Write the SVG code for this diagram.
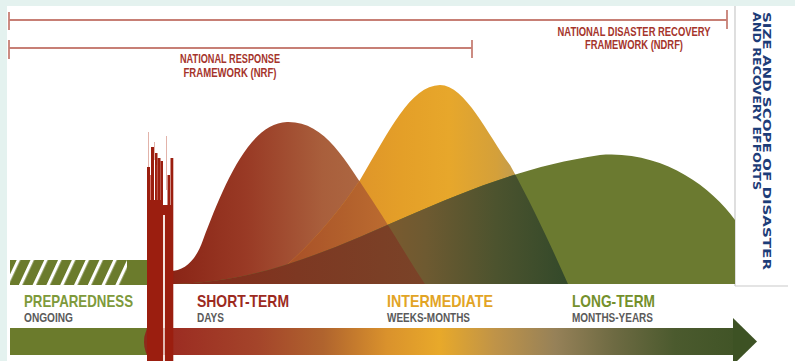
<svg xmlns="http://www.w3.org/2000/svg" width="795" height="361" viewBox="0 0 795 361">
<style>
.lbl{font-family:"Liberation Sans",Arial,sans-serif;font-weight:bold}
.fw{font-size:12.5px;fill:#a5342b;text-anchor:middle}
.ph{font-size:17px}
.sub{font-size:12px;fill:#5a5a5a}
.side{font-family:"DejaVu Sans","Liberation Sans",sans-serif;font-weight:bold;font-size:10.5px;fill:#1d3c78}
.br{stroke:#c77f75;stroke-width:1.8;fill:none}
.sep{stroke:#c9c9c9;stroke-width:1.2;fill:none}
.sp{fill:#9b1e0f}
.hl{stroke:#e2b3aa;stroke-width:1}
</style>
<defs>
<pattern id="hatch" patternUnits="userSpaceOnUse" width="12.5" height="40" patternTransform="rotate(25)">
<rect width="12.5" height="40" fill="#6b7b2c"/>
<rect x="0" width="3.2" height="40" fill="#ffffff"/>
</pattern>
<linearGradient id="gBand" gradientUnits="userSpaceOnUse" x1="10" y1="0" x2="757" y2="0">
<stop offset="0" stop-color="#6b7b2c"/>
<stop offset="0.182" stop-color="#6b7b2c"/>
<stop offset="0.184" stop-color="#8e2a1c"/>
<stop offset="0.22" stop-color="#9c2d22"/>
<stop offset="0.33" stop-color="#a4442a"/>
<stop offset="0.42" stop-color="#b0642e"/>
<stop offset="0.505" stop-color="#da922c"/>
<stop offset="0.575" stop-color="#e8a92a"/>
<stop offset="0.65" stop-color="#bf9348"/>
<stop offset="0.73" stop-color="#968158"/>
<stop offset="0.81" stop-color="#6d6a42"/>
<stop offset="0.89" stop-color="#4b5a2e"/>
<stop offset="1" stop-color="#3d5224"/>
</linearGradient>
<linearGradient id="gBrown" gradientUnits="userSpaceOnUse" x1="170" y1="0" x2="425" y2="0">
<stop offset="0" stop-color="#8a2416"/>
<stop offset="0.3" stop-color="#993a25"/>
<stop offset="0.6" stop-color="#a95f3c"/>
<stop offset="1" stop-color="#b27249"/>
</linearGradient>
<linearGradient id="gGold" gradientUnits="userSpaceOnUse" x1="330" y1="0" x2="568" y2="0">
<stop offset="0" stop-color="#dc8f2a"/>
<stop offset="0.3" stop-color="#e49f28"/>
<stop offset="0.5" stop-color="#e7a72b"/>
<stop offset="0.7" stop-color="#d4a03a"/>
<stop offset="0.88" stop-color="#ab9869"/>
<stop offset="1" stop-color="#a09872"/>
</linearGradient>
<linearGradient id="gBG" gradientUnits="userSpaceOnUse" x1="265" y1="0" x2="425" y2="0">
<stop offset="0" stop-color="#a54a26"/>
<stop offset="0.5" stop-color="#b2602c"/>
<stop offset="1" stop-color="#c37534"/>
</linearGradient>
<linearGradient id="gGreenGold" gradientUnits="userSpaceOnUse" x1="330" y1="0" x2="568" y2="0">
<stop offset="0" stop-color="#8d5a2c"/>
<stop offset="0.4" stop-color="#6e5a31"/>
<stop offset="0.7" stop-color="#4c532e"/>
<stop offset="1" stop-color="#33492a"/>
</linearGradient>
<linearGradient id="gGreenBrown" gradientUnits="userSpaceOnUse" x1="170" y1="0" x2="425" y2="0">
<stop offset="0" stop-color="#862818"/>
<stop offset="0.5" stop-color="#7d3822"/>
<stop offset="1" stop-color="#7a4328"/>
</linearGradient>
<clipPath id="cGold"><path d="M265,284 C300,255 330,225 360,180 C390,130 410,86 440,85 C465,85 488,135 510,165 C535,210 555,255 568,284 Z"/></clipPath>
<clipPath id="cBrown"><path d="M170,284 L170,271 C185,271 196,260 203,240 C222,190 248,123 287,122 C325,121 345,160 372,200 C395,235 410,262 425,284 Z"/></clipPath>
</defs>

<rect width="795" height="361" fill="#e4f2ef"/>
<rect x="7" y="6" width="788" height="355" fill="#ffffff"/>

<g id="connectors">
<g id="ndrf-span">
<line class="br" x1="9" y1="20" x2="727" y2="20"/>
<line class="br" x1="9" y1="12" x2="9" y2="30"/>
<line class="br" x1="727" y1="10" x2="727" y2="29"/>
</g>
<g id="nrf-span">
<line class="br" x1="9" y1="48" x2="472" y2="48"/>
<line class="br" x1="9" y1="40" x2="9" y2="59"/>
<line class="br" x1="472" y1="40" x2="472" y2="58"/>
</g>
</g>

<g id="nrf">
<text class="lbl fw" x="230" y="63" textLength="100" lengthAdjust="spacingAndGlyphs">NATIONAL RESPONSE</text>
<text class="lbl fw" x="230" y="77" textLength="93" lengthAdjust="spacingAndGlyphs">FRAMEWORK (NRF)</text>
</g>
<g id="ndrf">
<text class="lbl fw" x="634" y="36" textLength="153" lengthAdjust="spacingAndGlyphs">NATIONAL DISASTER RECOVERY</text>
<text class="lbl fw" x="634" y="49" textLength="98" lengthAdjust="spacingAndGlyphs">FRAMEWORK (NDRF)</text>
</g>

<g id="separators">
<line class="sep" x1="735" y1="6" x2="735" y2="286"/>
<line class="sep" x1="735" y1="286" x2="788" y2="286"/>
</g>

<g id="preparedness-bar">
<rect x="10" y="260" width="117" height="25" fill="url(#hatch)"/>
<rect x="127" y="260" width="21" height="25" fill="#6b7b2c"/>
</g>

<g id="curves">
<path id="short-term-curve" d="M170,284 L170,271 C185,271 196,260 203,240 C222,190 248,123 287,122 C325,121 345,160 372,200 C395,235 410,262 425,284 Z" fill="url(#gBrown)"/>
<path id="intermediate-curve" d="M265,284 C300,255 330,225 360,180 C390,130 410,86 440,85 C465,85 488,135 510,165 C535,210 555,255 568,284 Z" fill="url(#gGold)"/>
<path d="M170,284 L170,271 C185,271 196,260 203,240 C222,190 248,123 287,122 C325,121 345,160 372,200 C395,235 410,262 425,284 Z" fill="url(#gBG)" clip-path="url(#cGold)"/>
<path id="long-term-curve" d="M175,284 C330,280 430,180 600,155 C660,150 710,185 735,220 L735,284 Z" fill="#6b7a30"/>
<path d="M175,284 C330,280 430,180 600,155 C660,150 710,185 735,220 L735,284 Z" fill="url(#gGreenGold)" clip-path="url(#cGold)"/>
<path d="M175,284 C330,280 430,180 600,155 C660,150 710,185 735,220 L735,284 Z" fill="url(#gGreenBrown)" clip-path="url(#cBrown)"/>
</g>

<g id="phase-labels">
<g id="preparedness">
<text class="lbl ph" x="24" y="307" fill="#7e9a3b" textLength="109" lengthAdjust="spacingAndGlyphs">PREPAREDNESS</text>
<text class="lbl sub" x="24" y="322" textLength="49" lengthAdjust="spacingAndGlyphs">ONGOING</text>
</g>
<g id="short-term">
<text class="lbl ph" x="197" y="307" fill="#9c2a1e" textLength="92" lengthAdjust="spacingAndGlyphs">SHORT-TERM</text>
<text class="lbl sub" x="197" y="322" textLength="27" lengthAdjust="spacingAndGlyphs">DAYS</text>
</g>
<g id="intermediate">
<text class="lbl ph" x="387" y="307" fill="#e2a425" textLength="106" lengthAdjust="spacingAndGlyphs">INTERMEDIATE</text>
<text class="lbl sub" x="387" y="322" textLength="83" lengthAdjust="spacingAndGlyphs">WEEKS-MONTHS</text>
</g>
<g id="long-term">
<text class="lbl ph" x="572" y="307" fill="#74902c" textLength="83" lengthAdjust="spacingAndGlyphs">LONG-TERM</text>
<text class="lbl sub" x="572" y="322" textLength="81" lengthAdjust="spacingAndGlyphs">MONTHS-YEARS</text>
</g>
</g>

<g id="timeline-arrow">
<rect x="10" y="328" width="724" height="27" fill="url(#gBand)"/>
<polygon points="733,318 757,341.5 733,365" fill="#3d5224"/>
<ellipse cx="150" cy="342" rx="6" ry="14" fill="#8e2a1c"/>
</g>

<g id="disaster-spike">
<line class="hl" x1="148.5" y1="132" x2="148.5" y2="172"/>
<line class="hl" x1="166.5" y1="136" x2="166.5" y2="190"/>
<line class="hl" x1="154.5" y1="142" x2="154.5" y2="160"/>
<rect class="sp" x="147" y="167" width="3" height="194"/>
<rect class="sp" x="151" y="147" width="3" height="214"/>
<rect class="sp" x="155" y="153" width="2.5" height="208"/>
<rect class="sp" x="157.5" y="158" width="3" height="203"/>
<rect class="sp" x="160.5" y="161" width="2.5" height="200"/>
<rect class="sp" x="167.5" y="175" width="2.5" height="186"/>
<rect class="sp" x="170.5" y="158" width="2.8" height="203"/>
<rect class="sp" x="147" y="200" width="16" height="161"/>
<rect class="sp" x="165" y="205" width="8" height="156"/>
<rect class="sp" x="163" y="205" width="2" height="10"/>
<line x1="164" y1="215" x2="164" y2="361" stroke="#f3dcd6" stroke-width="1.6"/>
<line x1="150.5" y1="175" x2="150.5" y2="200" stroke="#c9574a" stroke-width="0.8"/>
<line x1="157.2" y1="165" x2="157.2" y2="200" stroke="#c9574a" stroke-width="0.6"/>
</g>

<g id="scale-label">
<text class="side" transform="translate(763,12) rotate(90)" textLength="258" lengthAdjust="spacingAndGlyphs">SIZE AND SCOPE OF DISASTER</text>
<text class="side" transform="translate(753,12) rotate(90)" textLength="178" lengthAdjust="spacingAndGlyphs">AND RECOVERY EFFORTS</text>
</g>
</svg>
